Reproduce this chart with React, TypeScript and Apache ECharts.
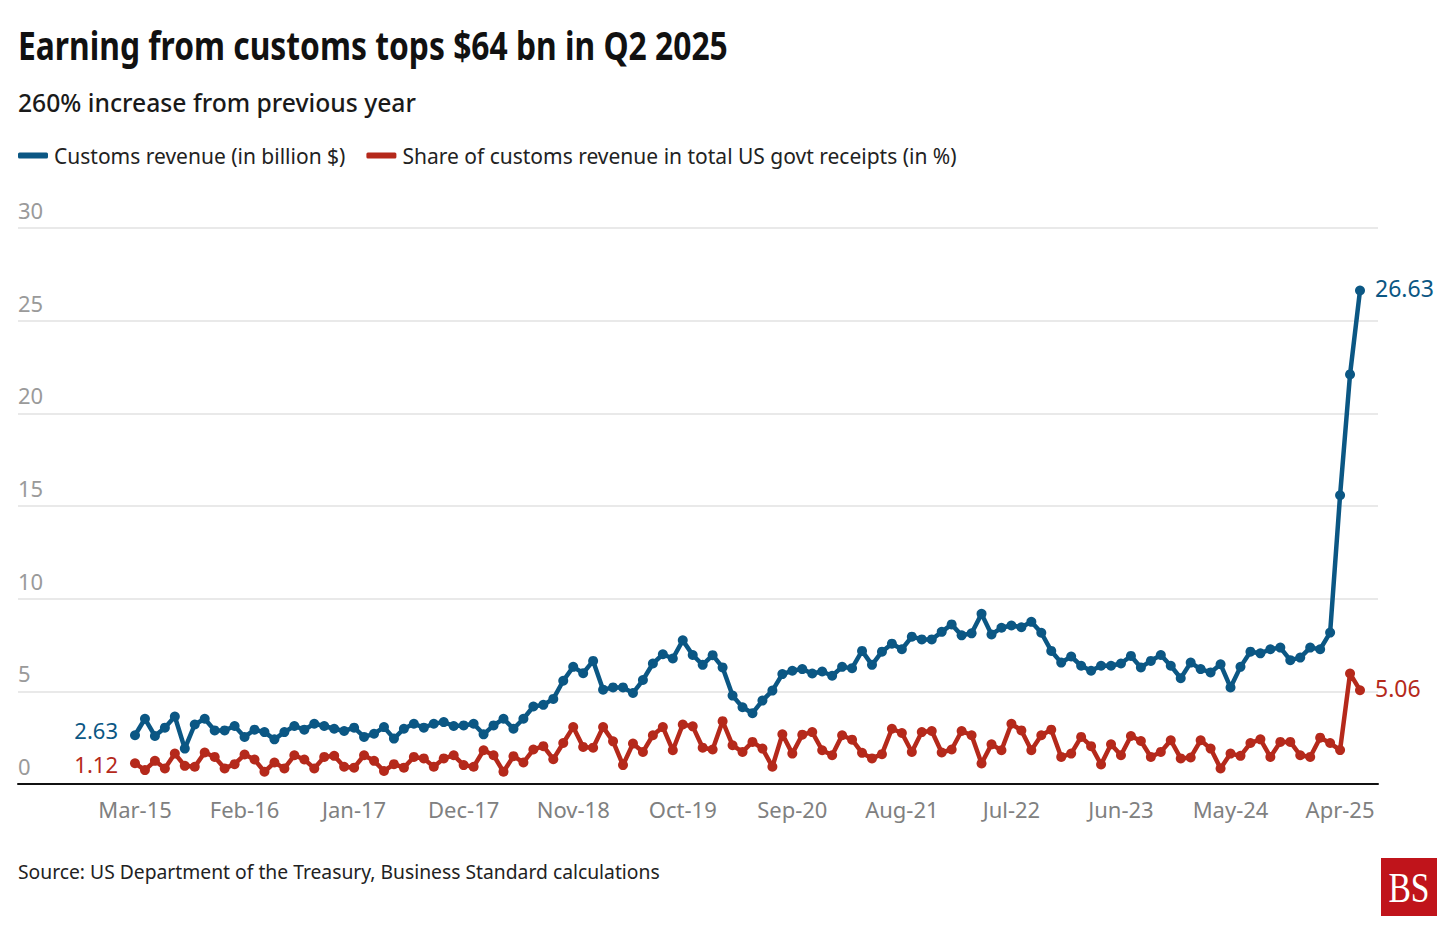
import React, { useEffect, useRef } from "react";
import * as echarts from "echarts";

const MONTH_NAMES = ["Jan", "Feb", "Mar", "Apr", "May", "Jun", "Jul", "Aug", "Sep", "Oct", "Nov", "Dec"];
const START_YEAR = 2015;
const START_MONTH = 2; // March
const N_MONTHS = 124;
const categories: string[] = Array.from({ length: N_MONTHS }, (_, i) => {
  const m = (START_MONTH + i) % 12;
  const y = START_YEAR + Math.floor((START_MONTH + i) / 12);
  return `${MONTH_NAMES[m]}-${String(y % 100).padStart(2, "0")}`;
});

// Customs revenue, billion $
const customsRevenue = [
  2.63, 3.52, 2.59, 3.04, 3.64, 1.91, 3.21, 3.52, 2.89, 2.89,
  3.13, 2.54, 2.93, 2.8, 2.41, 2.8, 3.13, 2.93, 3.25, 3.13,
  2.98, 2.86, 3.04, 2.54, 2.71, 3.07, 2.45, 2.98, 3.25, 3.04,
  3.25, 3.34, 3.13, 3.16, 3.25, 2.68, 3.16, 3.52, 2.98, 3.52,
  4.18, 4.27, 4.59, 5.57, 6.32, 5.98, 6.64, 5.09, 5.21, 5.21,
  4.91, 5.61, 6.5, 7.0, 6.77, 7.75, 6.96, 6.43, 6.95, 6.29,
  4.77, 4.14, 3.82, 4.5, 5.04, 5.93, 6.11, 6.2, 5.96, 6.07,
  5.84, 6.32, 6.25, 7.18, 6.43, 7.14, 7.57, 7.27, 7.95, 7.8,
  7.8, 8.21, 8.61, 8.02, 8.13, 9.18, 8.07, 8.43, 8.55, 8.46,
  8.75, 8.16, 7.18, 6.55, 6.88, 6.38, 6.11, 6.38, 6.38, 6.5,
  6.91, 6.29, 6.64, 6.96, 6.38, 5.71, 6.55, 6.2, 6.02, 6.46,
  5.21, 6.32, 7.14, 7.05, 7.27, 7.36, 6.68, 6.82, 7.36, 7.27,
  8.17, 15.58, 22.1, 26.63,
];

// Share of customs revenue in total US govt receipts, %
const customsShare = [
  1.12, 0.75, 1.25, 0.84, 1.64, 0.98, 0.93, 1.7, 1.46, 0.84,
  1.07, 1.59, 1.32, 0.66, 1.16, 0.84, 1.55, 1.32, 0.84, 1.46,
  1.52, 0.93, 0.88, 1.55, 1.25, 0.7, 1.07, 0.88, 1.46, 1.38,
  0.93, 1.38, 1.55, 1.02, 0.93, 1.82, 1.55, 0.66, 1.5, 1.16,
  1.86, 2.04, 1.34, 2.21, 3.07, 2.0, 1.96, 3.07, 2.3, 1.02,
  2.18, 1.73, 2.63, 3.07, 1.82, 3.21, 3.11, 1.96, 1.86, 3.39,
  2.09, 1.73, 2.27, 1.91, 0.93, 2.68, 1.64, 2.66, 2.8, 1.82,
  1.55, 2.63, 2.39, 1.68, 1.38, 1.61, 2.98, 2.75, 1.73, 2.8,
  2.86, 1.7, 1.86, 2.86, 2.63, 1.11, 2.14, 1.82, 3.25, 2.89,
  1.82, 2.63, 2.93, 1.46, 1.64, 2.54, 2.04, 1.05, 2.14, 1.55,
  2.59, 2.32, 1.46, 1.73, 2.36, 1.38, 1.43, 2.36, 1.91, 0.84,
  1.64, 1.52, 2.21, 2.41, 1.46, 2.27, 2.27, 1.55, 1.46, 2.5,
  2.21, 1.83, 5.96, 5.06,
];

const Y_MIN = 0;
const Y_MAX = 30;
const Y_STEP = 5;

const TITLE = "Earning from customs tops $64 bn in Q2 2025";
const SUBTITLE = "260% increase from previous year";
const SOURCE = "Source: US Department of the Treasury, Business Standard calculations";
const SERIES_NAMES = ["Customs revenue (in billion $)", "Share of customs revenue in total US govt receipts (in %)"];

const BLUE = "#0b5784";
const RED = "#b5291b";
const BODY = "'Noto Sans', 'Open Sans', sans-serif";

function withEndLabels(values: number[], color: string, startOffsetY: number) {
  const last = values.length - 1;
  return values.map((v, i) => {
    if (i === 0 || i === last) {
      return {
        value: v,
        label: {
          show: true,
          position: i === 0 ? "left" : "right",
          distance: i === 0 ? 12 : 10,
          offset: i === 0 ? [0, startOffsetY] : [0, -2],
          color,
          fontSize: i === 0 ? 22 : 23,
          fontFamily: BODY,
          formatter: (p: any) => Number(p.value).toFixed(2),
        },
      };
    }
    return v;
  });
}

export default function App() {
  const ref = useRef<HTMLDivElement>(null);
  useEffect(() => {
    if (!ref.current) return;
    const chart = echarts.init(ref.current, null, { renderer: "svg" });
    const gridTop = 228;
    const gridBottom = 151;
    chart.setOption({
      animation: false,
      backgroundColor: "#ffffff",
      title: [
        {
          text: SUBTITLE,
          left: 18,
          top: 90,
          padding: 0,
          textStyle: { fontSize: 24.7, fontWeight: 500, color: "#1a1a1a", fontFamily: BODY },
        },
        {
          text: SOURCE,
          left: 18,
          top: 862,
          padding: 0,
          textStyle: { fontSize: 19.3, fontWeight: "normal", color: "#222", fontFamily: BODY },
        },
      ],
      legend: {
        left: 18,
        top: 145,
        padding: 0,
        icon: "roundRect",
        itemWidth: 30,
        itemHeight: 6,
        itemGap: 21,
        selectedMode: false,
        data: SERIES_NAMES,
        textStyle: { fontSize: 21, color: "#222", fontFamily: BODY, padding: [0, 0, 0, 1] },
      },
      grid: [
        { left: 18, right: 78, top: gridTop, bottom: gridBottom },
        { left: 135, right: 96, top: gridTop, bottom: gridBottom },
      ],
      xAxis: [
        {
          gridIndex: 0,
          type: "value",
          min: 0,
          max: 1,
          axisLine: { show: true, onZero: false, lineStyle: { color: "#111", width: 2 } },
          axisTick: { show: false },
          axisLabel: { show: false },
          splitLine: { show: false },
        },
        {
          gridIndex: 1,
          type: "category",
          data: categories,
          boundaryGap: false,
          axisLine: { show: false },
          axisTick: { show: false },
          splitLine: { show: false },
          axisLabel: {
            interval: 10,
            color: "#808080",
            fontSize: 22,
            margin: 14,
            fontFamily: BODY,
          },
        },
      ],
      yAxis: [
        {
          gridIndex: 0,
          type: "value",
          min: Y_MIN,
          max: Y_MAX,
          interval: Y_STEP,
          axisLine: { show: false },
          axisTick: { show: false },
          splitLine: { show: true, lineStyle: { color: "#e2e2e2", width: 1.5 } },
          axisLabel: {
            inside: true,
            margin: 0,
            align: "left",
            verticalAlign: "bottom",
            padding: [0, 0, 7, 0],
            color: "#9a9a9a",
            fontSize: 22,
            fontFamily: BODY,
          },
        },
        {
          gridIndex: 1,
          type: "value",
          min: Y_MIN,
          max: Y_MAX,
          interval: Y_STEP,
          show: false,
        },
      ],
      series: [
        {
          name: SERIES_NAMES[0],
          type: "line",
          xAxisIndex: 1,
          yAxisIndex: 1,
          data: withEndLabels(customsRevenue, BLUE, -5),
          symbol: "circle",
          symbolSize: 10,
          showAllSymbol: true,
          color: BLUE,
          lineStyle: { color: BLUE, width: 4.5 },
          itemStyle: { color: BLUE },
          z: 3,
        },
        {
          name: SERIES_NAMES[1],
          type: "line",
          xAxisIndex: 1,
          yAxisIndex: 1,
          data: withEndLabels(customsShare, RED, 1),
          symbol: "circle",
          symbolSize: 10,
          showAllSymbol: true,
          color: RED,
          lineStyle: { color: RED, width: 4.5 },
          itemStyle: { color: RED },
          z: 3,
        },
      ],
      graphic: [
        {
          type: "text",
          x: 18,
          y: 45,
          scaleX: 0.795,
          style: {
            text: TITLE,
            fill: "#111",
            fontSize: 40,
            fontWeight: "bold",
            fontFamily: BODY,
            align: "left",
            verticalAlign: "middle",
          },
        },
        {
          type: "rect",
          shape: { x: 1381, y: 858, width: 56, height: 58 },
          style: { fill: "#c0141b" },
        },
        {
          type: "text",
          x: 1409,
          y: 888,
          scaleX: 0.8,
          style: {
            text: "BS",
            fill: "#ffffff",
            fontSize: 42,
            fontFamily: "'Liberation Serif', 'DejaVu Serif', serif",
            align: "center",
            verticalAlign: "middle",
          },
        },
      ],
    });
    return () => chart.dispose();
  }, []);
  return (
    <div
      ref={ref}
      style={{ position: "fixed", left: 0, top: 0, width: 1456, height: 935, background: "#fff" }}
    />
  );
}
